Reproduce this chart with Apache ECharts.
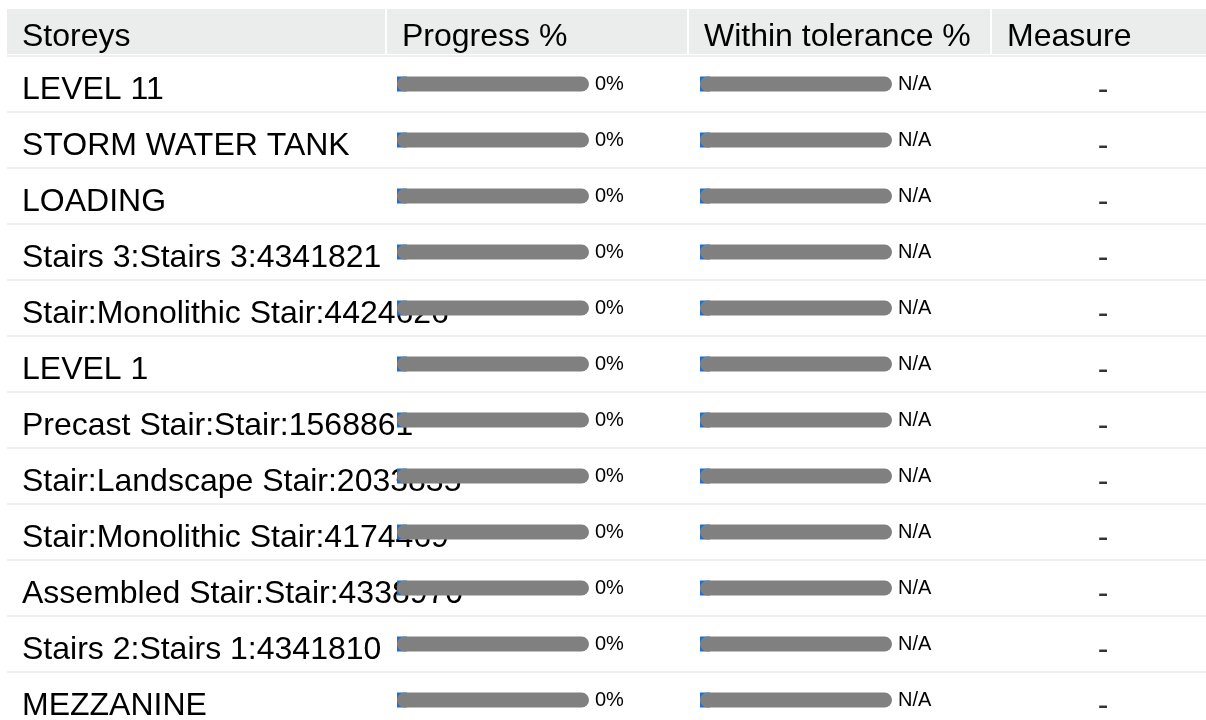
<!DOCTYPE html>
<html>
<head>
<meta charset="utf-8">
<script src="https://cdn.jsdelivr.net/npm/echarts@6/dist/echarts.min.js"></script>
<style>html,body{margin:0;padding:0;background:#fff;}#chart{width:1206px;height:720px;}</style>
</head>
<body>
<div id="chart"></div>
<script>
const headers = ['Storeys', 'Progress %', 'Within tolerance %', 'Measure'];
const storeys = ['LEVEL 11', 'STORM WATER TANK', 'LOADING', 'Stairs 3:Stairs 3:4341821',
  'Stair:Monolithic Stair:4424626', 'LEVEL 1', 'Precast Stair:Stair:1568861',
  'Stair:Landscape Stair:2033835', 'Stair:Monolithic Stair:4174469',
  'Assembled Stair:Stair:4338970', 'Stairs 2:Stairs 1:4341810', 'MEZZANINE'];
const progress = [0, 0, 0, 0, 0, 0, 0, 0, 0, 0, 0, 0];
const tolerance = [null, null, null, null, null, null, null, null, null, null, null, null];
const measure = ['-', '-', '-', '-', '-', '-', '-', '-', '-', '-', '-', '-'];
const FULL = 100;

const FONT = '"Liberation Sans", Arial, sans-serif';
const chart = echarts.init(document.getElementById('chart'), null, {renderer: 'canvas'});

const TOP = 56, H = 672, TEXT_TOP = 62;
const g = (o) => Object.assign({outerBoundsMode: 'none', containLabel: false}, o);
const grids = [
  g({left: 7, right: 0, top: TOP, height: H}),
  g({left: 397, width: 192, top: TOP, height: H}),
  g({left: 700, width: 192, top: TOP, height: H}),
  g({left: 1000, right: 0, top: TEXT_TOP, height: H}),
  g({left: 7, right: 0, top: TEXT_TOP, height: H})
];
const hiddenY = (gi) => ({type: 'category', gridIndex: gi, data: storeys, inverse: true, show: false});
const hiddenX = (gi) => ({type: 'value', gridIndex: gi, min: 0, max: FULL, show: false});

function barPair(gi, values, labelFn) {
  return [
    {type: 'bar', xAxisIndex: gi, yAxisIndex: gi, barWidth: 15, barMinHeight: 10,
      itemStyle: {color: '#1f6fcf'}, data: values.map(v => v == null ? 0 : v), silent: true},
    {type: 'bar', xAxisIndex: gi, yAxisIndex: gi, barWidth: 15, barGap: '-100%',
      itemStyle: {color: '#808080', borderRadius: 7.5},
      label: {show: true, position: 'right', distance: 6, fontSize: 20, fontFamily: FONT, color: '#000',
        formatter: p => labelFn(values[p.dataIndex])},
      data: values.map(() => FULL), silent: true}
  ];
}

const headerX = [7, 387, 689, 992, 1206];
const graphic = [];
headers.forEach((h, i) => {
  graphic.push({type: 'rect', shape: {x: headerX[i], y: 9, width: headerX[i + 1] - headerX[i] - (i < 3 ? 2 : 0), height: 45},
    style: {fill: '#ebecec'}, silent: true, z: -1});
  graphic.push({type: 'text', x: headerX[i] + 15, y: 37,
    style: {text: h, font: '32px ' + FONT, fill: '#000', textVerticalAlign: 'middle'}, silent: true});
});

chart.setOption({
  animation: false,
  backgroundColor: '#fff',
  grid: grids,
  xAxis: [
    {type: 'value', gridIndex: 0, show: false},
    hiddenX(1), hiddenX(2),
    {type: 'category', gridIndex: 3, data: [headers[3]], show: false},
    {type: 'value', gridIndex: 4, show: false}
  ],
  yAxis: [
    {type: 'category', gridIndex: 0, data: storeys, inverse: true,
      axisLine: {show: false}, axisTick: {show: false}, axisLabel: {show: false},
      splitLine: {show: true, interval: 0, lineStyle: {color: '#efefef', width: 2}}},
    hiddenY(1), hiddenY(2), hiddenY(3),
    {type: 'category', gridIndex: 4, data: storeys, inverse: true,
      axisLine: {show: false}, axisTick: {show: false}, splitLine: {show: false},
      axisLabel: {inside: true, interval: 0, margin: 15, fontSize: 32, fontFamily: FONT, color: '#000',
        align: 'left'}}
  ],
  series: [
    ...barPair(1, progress, v => v == null ? 'N/A' : v + '%'),
    ...barPair(2, tolerance, v => v == null ? 'N/A' : v + '%'),
    {type: 'scatter', xAxisIndex: 3, yAxisIndex: 3, symbolSize: 0, silent: true,
      label: {show: true, position: 'inside', fontSize: 32, fontFamily: FONT, color: '#000',
        formatter: p => measure[p.dataIndex]},
      data: storeys.map(s => [headers[3], s])}
  ],
  graphic: graphic
});
</script>
</body>
</html>
